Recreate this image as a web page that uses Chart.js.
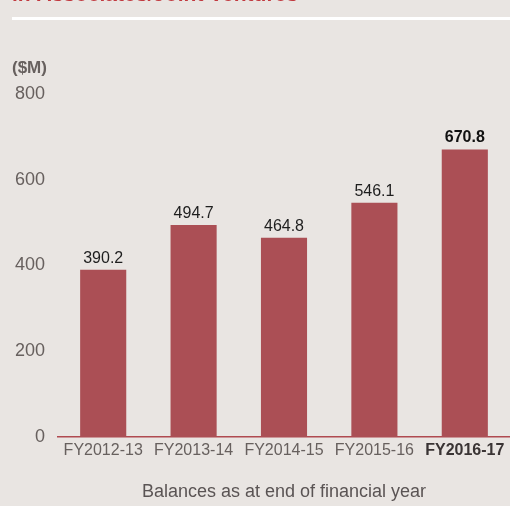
<!DOCTYPE html>
<html>
<head>
<meta charset="utf-8">
<script src="https://cdn.jsdelivr.net/npm/chart.js@4.4.0/dist/chart.umd.min.js"></script>
<style>
  html, body { margin: 0; padding: 0; background: #e9e5e2; }
  #wrap { width: 510px; height: 506px; position: relative; }
</style>
</head>
<body>
<div id="wrap"><canvas id="investChart"></canvas></div>
<script>
const years = ["FY2012-13", "FY2013-14", "FY2014-15", "FY2015-16", "FY2016-17"];
const balances = [390.2, 494.7, 464.8, 546.1, 670.8];
const yTicks = [0, 200, 400, 600, 800];

const barColor = '#ab4f55';
const greyText = '#67605e';

// title strip, white rule, unit label and value labels
const decorPlugin = {
  id: 'decor',
  beforeDraw(chart) {
    const ctx = chart.ctx;
    ctx.save();
    ctx.fillStyle = '#c1393f';
    ctx.font = 'bold 21px "Liberation Sans", Arial, sans-serif';
    ctx.textBaseline = 'alphabetic';
    ctx.fillText('in Associates/Joint Ventures', 12, 1);
    ctx.fillStyle = '#ffffff';
    ctx.fillRect(12, 17, 498, 3);
    ctx.fillStyle = greyText;
    ctx.font = 'bold 17px "Liberation Sans", Arial, sans-serif';
    ctx.fillText('($M)', 12, 73);
    ctx.restore();
  },
  afterDatasetsDraw(chart) {
    const ctx = chart.ctx;
    const meta = chart.getDatasetMeta(0);
    ctx.save();
    ctx.textAlign = 'center';
    ctx.textBaseline = 'alphabetic';
    meta.data.forEach((bar, i) => {
      const last = i === balances.length - 1;
      ctx.fillStyle = last ? '#111111' : '#1e1e1e';
      ctx.font = (last ? 'bold ' : '') + '16px "Liberation Sans", Arial, sans-serif';
      ctx.fillText(balances[i].toFixed(1), bar.x, bar.y - 7);
    });
    ctx.restore();
  }
};

new Chart(document.getElementById('investChart'), {
  type: 'bar',
  data: {
    labels: years,
    datasets: [{
      data: balances,
      backgroundColor: barColor,
      barPercentage: 0.51,
      categoryPercentage: 1.0
    }]
  },
  options: {
    responsive: true,
    maintainAspectRatio: false,
    animation: false,
    layout: { padding: { top: 94, left: 0, right: 0, bottom: 0 } },
    plugins: {
      legend: { display: false },
      tooltip: { enabled: false }
    },
    scales: {
      x: {
        grid: { display: false, drawTicks: false },
        border: { display: true, color: '#b04a50', width: 1.5 },
        ticks: {
          padding: 4,
          color: (c) => c.index === years.length - 1 ? '#3a3434' : greyText,
          font: (c) => ({
            family: '"Liberation Sans", Arial, sans-serif',
            size: 16,
            weight: c.index === years.length - 1 ? 'bold' : 'normal'
          })
        },
        title: {
          display: true,
          text: 'Balances as at end of financial year',
          color: '#5a5454',
          font: { family: '"Liberation Sans", Arial, sans-serif', size: 18 },
          padding: { top: 12, bottom: 3 }
        },
        afterFit(scale) { scale.height = 69; }
      },
      y: {
        min: 0,
        max: 800,
        grid: { display: false, drawTicks: false },
        border: { display: false },
        afterBuildTicks(scale) { scale.ticks = yTicks.map(v => ({ value: v })); },
        ticks: {
          padding: 13,
          color: greyText,
          font: { family: '"Liberation Sans", Arial, sans-serif', size: 18 }
        },
        afterFit(scale) { scale.width = 58; }
      }
    }
  },
  plugins: [decorPlugin]
});
</script>
</body>
</html>
